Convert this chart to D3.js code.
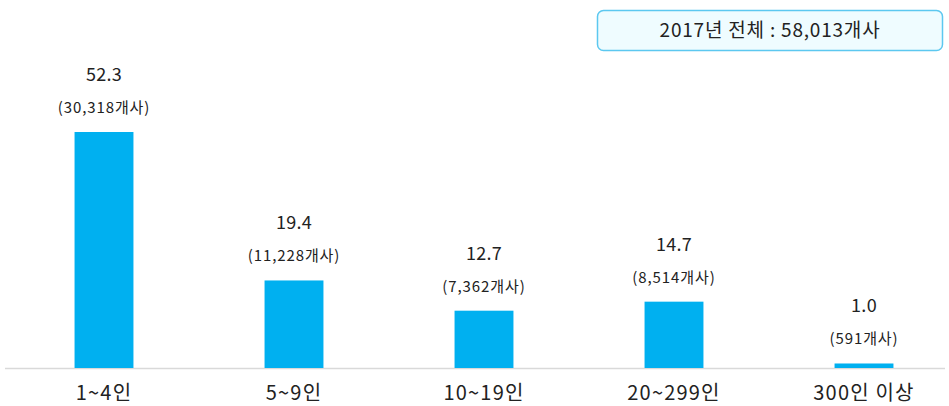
<!DOCTYPE html>
<html><head><meta charset="utf-8">
<script src="https://cdn.jsdelivr.net/npm/d3@7"></script>
<style>body{margin:0;background:#fff;}svg{display:block;font-family:"Noto Sans CJK KR","Noto Sans",sans-serif;}</style>
</head><body>
<svg id="c" width="949" height="406"></svg>
<script>
const categories = ["1~4인","5~9인","10~19인","20~299인","300인 이상"];
const shares = [52.3, 19.4, 12.7, 14.7, 1.0];
const counts = ["30,318","11,228","7,362","8,514","591"];
const totalLabel = "2017년 전체 : 58,013개사";

const svg = d3.select("#c");
const base = 368;
const x = d3.scaleBand().domain(categories).range([9, 959]).paddingInner(0.69).paddingOuter(0.345);
const y = d3.scaleLinear().domain([0, 52.3]).range([base, 132]);

svg.append("line").attr("x1",5).attr("x2",945).attr("y1",base+0.5).attr("y2",base+0.5)
  .attr("stroke","#d9d9d9").attr("stroke-width",1.5);

svg.selectAll("rect.bar").data(shares).join("rect").attr("class","bar")
  .attr("x",(d,i)=>x(categories[i])).attr("width",x.bandwidth())
  .attr("y",d=>y(d)).attr("height",d=>base-y(d)).attr("fill","#00b0f0");

svg.selectAll("text.val").data(shares).join("text").attr("class","val")
  .attr("x",(d,i)=>x(categories[i])+x.bandwidth()/2).attr("y",d=>y(d)-51)
  .attr("text-anchor","middle").attr("font-size",18).attr("fill","#222")
  .attr("letter-spacing",0.3)
  .text(d=>d.toFixed(1));

svg.selectAll("text.cnt").data(counts).join("text").attr("class","cnt")
  .attr("x",(d,i)=>x(categories[i])+x.bandwidth()/2).attr("y",(d,i)=>y(shares[i])-19)
  .attr("text-anchor","middle").attr("font-size",15).attr("fill","#222")
  .attr("letter-spacing",0.9)
  .text(d=>"("+d+"개사)");

svg.selectAll("text.cat").data(categories).join("text").attr("class","cat")
  .attr("x",d=>x(d)+x.bandwidth()/2).attr("y",400)
  .attr("text-anchor","middle").attr("font-size",20).attr("fill","#222")
  .attr("letter-spacing",1.2)
  .text(d=>d);

svg.append("rect").attr("x",597.5).attr("y",10.5).attr("width",345).attr("height",40).attr("rx",6)
  .attr("fill","#effcff").attr("stroke","#5cc8f0").attr("stroke-width",1.5);
svg.append("text").attr("x",770).attr("y",37).attr("text-anchor","middle")
  .attr("font-size",19).attr("fill","#222").attr("letter-spacing",0.8).text(totalLabel);
</script>
</body></html>
